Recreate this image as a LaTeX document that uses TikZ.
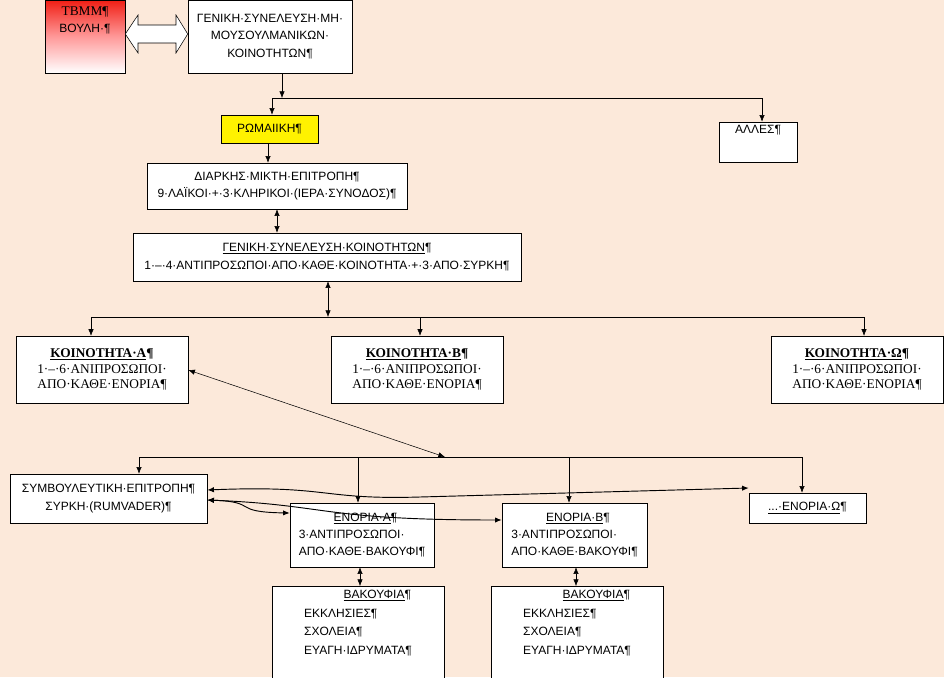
\documentclass[tikz,border=0pt]{standalone}
\usepackage{fontspec}
\setmainfont{Liberation Sans}
\newfontfamily\serifgr{Liberation Serif}
\usetikzlibrary{positioning,arrows.meta}
\definecolor{peach}{RGB}{252,233,218}
\definecolor{tbred}{RGB}{240,30,20}
\tikzset{
  box/.style={draw,fill=white,inner sep=2pt,align=center,font=\fontsize{9}{13}\selectfont},
  kbox/.style={box,font=\serifgr\fontsize{10}{11.5}\selectfont},
  link/.style={-{Latex[length=5pt,width=4pt]},thin},
  both/.style={{Latex[length=5pt,width=4pt]}-{Latex[length=5pt,width=4pt]},thin},
  wavy/.style={both,line width=.7pt}
}
\begin{document}
\begin{tikzpicture}[x=0.75pt,y=-0.75pt]
  \useasboundingbox[fill=peach] (0,0) rectangle (944,677);
  % top row
  \shade[top color=tbred,bottom color=white,middle color=red!40] (45,0) rectangle (125,73);
  \node[box,fill=none,minimum width=60pt,minimum height=54.75pt] (tbmm) at (85,36.5)
    {{\serifgr\fontsize{10}{12}\selectfont TBMM¶}\\ΒΟΥΛΗ·¶\\[12pt]};
  \node[box,minimum width=123pt,minimum height=54.75pt] (gsmm) at (270,36.5)
    {ΓΕΝΙΚΗ·ΣΥΝΕΛΕΥΣΗ·ΜΗ·\\ΜΟΥΣΟΥΛΜΑΝΙΚΩΝ·\\ΚΟΙΝΟΤΗΤΩΝ¶};
  % hollow double arrow between them
  \draw[fill=white] (tbmm.east |- 0,34) -- (138,15) -- (138,25) -- (176,25) -- (176,15)
    -- (gsmm.west |- 0,34) -- (176,53) -- (176,43) -- (138,43) -- (138,53) -- cycle;
  % second level
  \node[box,fill=yellow,minimum width=72.75pt,minimum height=21pt] (rom) at (269.5,129) {ΡΩΜΑΙΙΚΗ¶};
  \node[box,minimum width=58.5pt,minimum height=30pt,align=left] (alles) at (758,142) {ΑΛΛΕΣ¶\\[6pt]};
  \coordinate (split) at (282,98);
  \draw[link] (gsmm.south -| split) -- (split);
  \draw[link] (split) -| (rom.north -| 272,0);
  \draw[link] (split) -| (alles.north -| 762,0);
  \node[box,minimum width=195pt,minimum height=34.5pt] (dmep) at (277,186)
    {ΔΙΑΡΚΗΣ·ΜΙΚΤΗ·ΕΠΙΤΡΟΠΗ¶\\9·ΛΑΪΚΟΙ·+·3·ΚΛΗΡΙΚΟΙ·(ΙΕΡΑ·ΣΥΝΟΔΟΣ)¶};
  \draw[link] (rom.south -| 268,0) -- (dmep.north -| 268,0);
  \node[box,minimum width=291pt,minimum height=36pt] (gsk) at (327,257)
    {\underline{ΓΕΝΙΚΗ·ΣΥΝΕΛΕΥΣΗ·ΚΟΙΝΟΤΗΤΩΝ}¶\\1·–·4·ΑΝΤΙΠΡΟΣΩΠΟΙ·ΑΠΟ·ΚΑΘΕ·ΚΟΙΝΟΤΗΤΑ·+·3·ΑΠΟ·ΣΥΡΚΗ¶};
  \draw[both] (dmep.south -| 277,0) -- (gsk.north -| 277,0);
  % communities
  \coordinate (kbar) at (328,317);
  \draw[both] (gsk.south -| kbar) -- (kbar);
  \node[kbox,minimum width=129pt,minimum height=50pt] (ka) at (102,369.5)
    {\textbf{\underline{ΚΟΙΝΟΤΗΤΑ·Α}¶}\\1·–·6·ΑΝΙΠΡΟΣΩΠΟΙ·\\ΑΠΟ·ΚΑΘΕ·ΕΝΟΡΙΑ¶};
  \node[kbox,minimum width=129pt,minimum height=50pt] (kb) at (417,369.5)
    {\textbf{\underline{ΚΟΙΝΟΤΗΤΑ·Β}¶}\\1·–·6·ΑΝΙΠΡΟΣΩΠΟΙ·\\ΑΠΟ·ΚΑΘΕ·ΕΝΟΡΙΑ¶};
  \node[kbox,minimum width=129pt,minimum height=50pt] (kw) at (857,369.5)
    {\textbf{\underline{ΚΟΙΝΟΤΗΤΑ·Ω}¶}\\1·–·6·ΑΝΙΠΡΟΣΩΠΟΙ·\\ΑΠΟ·ΚΑΘΕ·ΕΝΟΡΙΑ¶};
  \draw (91,317) -- (864,317);
  \draw[link] (91,317) -- (ka.north -| 91,0);
  \draw[link] (420,317) -- (kb.north -| 420,0);
  \draw[link] (864,317) -- (kw.north -| 864,0);
  % parishes
  \coordinate (ebar) at (445,457);
  \draw[both] (ka.east |- 0,370) -- (ebar);
  \node[box,minimum width=147.75pt,minimum height=36.75pt] (symb) at (108.5,498.5)
    {ΣΥΜΒΟΥΛΕΥΤΙΚΗ·ΕΠΙΤΡΟΠΗ¶\\ΣΥΡΚΗ·(RUMVADER)¶};
  \node[box,minimum width=108pt,minimum height=48pt,align=left] (ea) at (362,535)
    {\hspace*{2.9em}\underline{ΕΝΟΡΙΑ·Α}¶\\3·ΑΝΤΙΠΡΟΣΩΠΟΙ·\\ΑΠΟ·ΚΑΘΕ·ΒΑΚΟΥΦΙ¶};
  \node[box,minimum width=108.75pt,minimum height=48pt,align=left] (eb) at (574.5,535)
    {\hspace*{2.9em}\underline{ΕΝΟΡΙΑ·Β}¶\\3·ΑΝΤΙΠΡΟΣΩΠΟΙ·\\ΑΠΟ·ΚΑΘΕ·ΒΑΚΟΥΦΙ¶};
  \node[box,minimum width=87.75pt,minimum height=22.5pt] (ew) at (807.5,508) {\underline{...·ΕΝΟΡΙΑ·Ω}¶};
  \draw (139,457) -- (802,457);
  \draw[link] (139,457) -- (symb.north -| 139,0);
  \draw[link] (358,457) -- (ea.north -| 358,0);
  \draw[link] (569,457) -- (eb.north -| 569,0);
  \draw[link] (802,457) -- (ew.north -| 802,0);
  % wavy links from the advisory committee
  \draw[wavy] (symb.east |- 0,490) .. controls (330,485) and (320,500) .. (420,497) -- (ew.west |- 0,488);
  \draw[wavy] (symb.east |- 0,500) .. controls (260,502) and (230,512) .. (ea.west |- 0,513);
  \draw[wavy] (symb.east |- 0,500) .. controls (330,505) and (320,520) .. (eb.west |- 0,520);
  % endowments
  \node[box,minimum width=129pt,minimum height=70pt,align=left,font=\fontsize{9}{14}\selectfont] (va) at (358,633)
    {\hspace*{3.3em}\underline{ΒΑΚΟΥΦΙΑ}¶\\ΕΚΚΛΗΣΙΕΣ¶\\ΣΧΟΛΕΙΑ¶\\ΕΥΑΓΗ·ΙΔΡΥΜΑΤΑ¶\\[2pt]};
  \node[box,minimum width=129pt,minimum height=70pt,align=left,font=\fontsize{9}{14}\selectfont] (vb) at (577,633)
    {\hspace*{3.3em}\underline{ΒΑΚΟΥΦΙΑ}¶\\ΕΚΚΛΗΣΙΕΣ¶\\ΣΧΟΛΕΙΑ¶\\ΕΥΑΓΗ·ΙΔΡΥΜΑΤΑ¶\\[2pt]};
  \draw[both] (ea.south -| 360,0) -- (va.north -| 360,0);
  \draw[both] (eb.south -| 576,0) -- (vb.north -| 576,0);
\end{tikzpicture}
\end{document}
